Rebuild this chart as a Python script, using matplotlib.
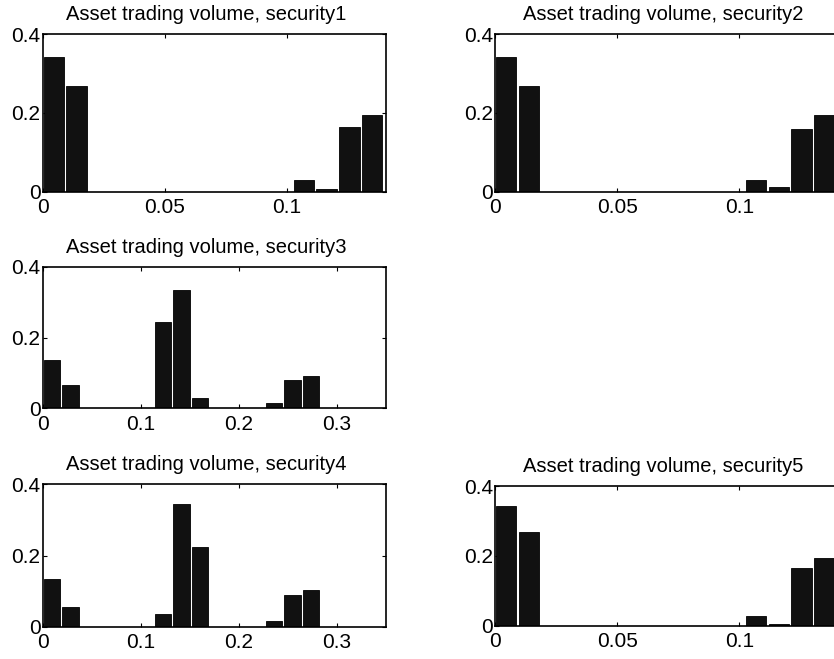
import matplotlib.pyplot as plt

plt.rcParams['font.family'] = ['Liberation Sans', 'DejaVu Sans']

# histogram bin centres (fraction of total volume)
bins_narrow = [0.0046, 0.0139, 0.0232, 0.0325, 0.0418, 0.0511, 0.0604, 0.0697,
               0.0790, 0.0883, 0.0976, 0.1069, 0.1162, 0.1255, 0.1348]
bins_wide = [0.0094, 0.0283, 0.0472, 0.0661, 0.0850, 0.1038, 0.1227, 0.1416,
             0.1605, 0.1794, 0.1982, 0.2171, 0.2360, 0.2549, 0.2738]

# relative frequencies per security
freq_sec1 = [0.341, 0.268, 0, 0, 0, 0, 0, 0, 0, 0, 0, 0.030, 0.0076, 0.164, 0.194]
freq_sec2 = [0.341, 0.268, 0, 0, 0, 0, 0, 0, 0, 0, 0, 0.030, 0.013, 0.160, 0.194]
freq_sec3 = [0.136, 0.067, 0, 0, 0, 0, 0.243, 0.333, 0.029, 0, 0, 0, 0.014, 0.080, 0.091]
freq_sec4 = [0.133, 0.054, 0, 0, 0, 0, 0.037, 0.345, 0.225, 0, 0, 0, 0.015, 0.088, 0.102]
freq_sec5 = [0.343, 0.269, 0, 0, 0, 0, 0, 0, 0, 0.001, 0, 0.029, 0.005, 0.167, 0.194]

xticks_narrow = [0, 0.05, 0.1]
xticks_wide = [0, 0.1, 0.2, 0.3]
yticks = [0, 0.2, 0.4]

fig = plt.figure(figsize=(8.34, 6.59), dpi=100)

# [left, bottom, width, height] in figure fraction; right column runs off the page
panels = [
    ('security1', [0.0512, 0.7091, 0.4116, 0.2393], bins_narrow, freq_sec1, 0.0084, 0.1405, xticks_narrow, 0.475),
    ('security2', [0.5935, 0.7091, 0.4116, 0.2393], bins_narrow, freq_sec2, 0.0084, 0.1405, xticks_narrow, 0.49),
    ('security3', [0.0512, 0.3804, 0.4116, 0.2149], bins_wide, freq_sec3, 0.0168, 0.35, xticks_wide, 0.475),
    ('security4', [0.0512, 0.0490, 0.4116, 0.2161], bins_wide, freq_sec4, 0.0168, 0.35, xticks_wide, 0.475),
    ('security5', [0.5935, 0.0501, 0.4116, 0.2124], bins_narrow, freq_sec5, 0.0084, 0.1405, xticks_narrow, 0.49),
]

for name, rect, centers, freqs, width, xmax, xticks, tx in panels:
    ax = fig.add_axes(rect)
    ax.bar(centers, freqs, width=width, color='#111111', edgecolor='black',
           linewidth=0.6, zorder=2)
    ax.set_xlim(0, xmax)
    ax.set_ylim(0, 0.4)
    ax.set_xticks(xticks)
    ax.set_xticklabels([f'{t:g}' for t in xticks])
    ax.set_yticks(yticks)
    ax.set_yticklabels([f'{t:g}' for t in yticks])
    ax.tick_params(direction='in', top=True, right=True, length=3, width=0.8,
                   labelsize=15)
    ax.tick_params(axis='x', pad=4.5)
    ax.tick_params(axis='y', pad=1.5)
    for sp in ax.spines.values():
        sp.set_linewidth(1.2)
    ax.annotate(f'Asset trading volume, {name}', xy=(tx, 1), xycoords='axes fraction',
                xytext=(0, 10), textcoords='offset points', ha='center',
                va='baseline', fontsize=14.5)

fig.savefig('out.png', dpi=100)
